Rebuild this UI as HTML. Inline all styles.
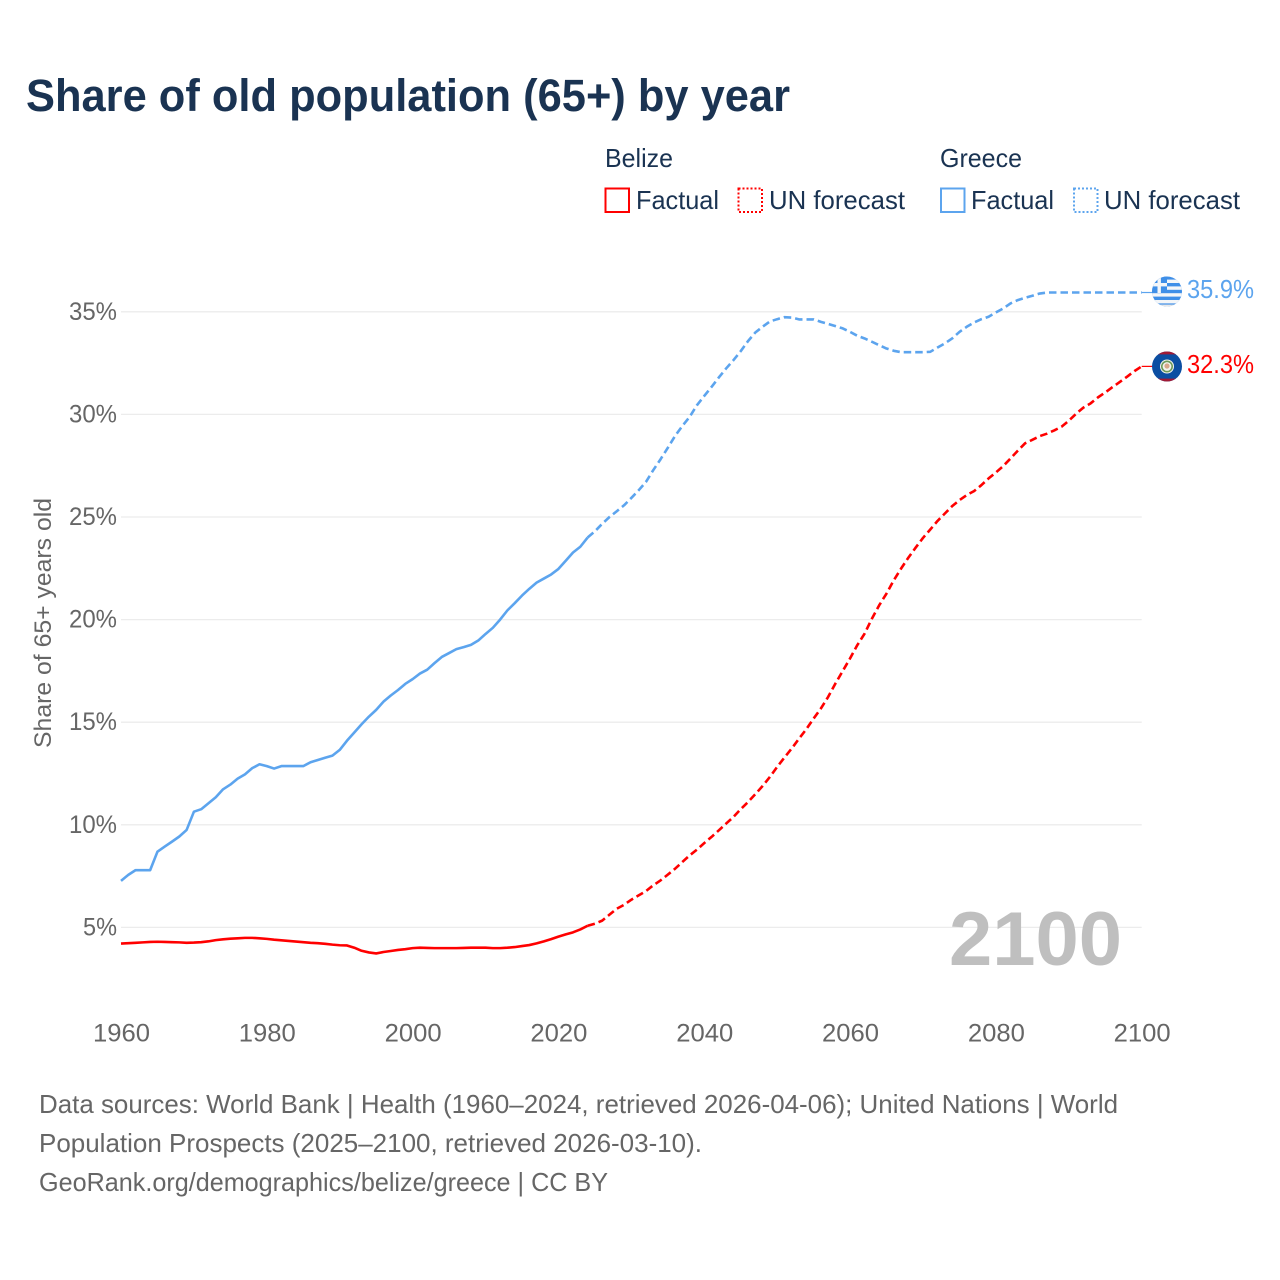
<!DOCTYPE html>
<html lang="en">
<head>
<meta charset="utf-8">
<title>Share of old population (65+) by year</title>
<style>
  html, body { margin: 0; padding: 0; background: #fff; }
  svg { display: block; font-family: "Liberation Sans", sans-serif; }
</style>
</head>
<body>
<svg id="chart" xmlns="http://www.w3.org/2000/svg" width="1280" height="1280" viewBox="0 0 1280 1280">
  <defs>
    <clipPath id="flag-gr-clip"><circle cx="1167" cy="291.5" r="15"/></clipPath>
    <clipPath id="flag-bz-clip"><circle cx="1167" cy="366.5" r="15"/></clipPath>
  </defs>
  <rect width="1280" height="1280" fill="#fff"/>

  <text x="26" y="111" font-size="45" font-weight="700" fill="#1a3352" textLength="764" lengthAdjust="spacingAndGlyphs">Share of old population (65+) by year</text>

  <g font-size="26" fill="#1a3352">
    <text x="605" y="167" textLength="68" lengthAdjust="spacingAndGlyphs">Belize</text>
    <text x="940" y="167" textLength="82" lengthAdjust="spacingAndGlyphs">Greece</text>
    <rect x="605.5" y="188.5" width="23.5" height="23.5" fill="none" stroke="#ff0000" stroke-width="2"/>
    <text x="636" y="209" textLength="83" lengthAdjust="spacingAndGlyphs">Factual</text>
    <rect x="738.5" y="188.5" width="23.5" height="23.5" fill="none" stroke="#ff0000" stroke-width="2" stroke-dasharray="2 2"/>
    <text x="769" y="209" textLength="136" lengthAdjust="spacingAndGlyphs">UN forecast</text>
    <rect x="941" y="188.5" width="23.5" height="23.5" fill="none" stroke="#5ca4ee" stroke-width="2"/>
    <text x="971" y="209" textLength="83" lengthAdjust="spacingAndGlyphs">Factual</text>
    <rect x="1074" y="188.5" width="23.5" height="23.5" fill="none" stroke="#5ca4ee" stroke-width="2" stroke-dasharray="2 2"/>
    <text x="1104" y="209" textLength="136" lengthAdjust="spacingAndGlyphs">UN forecast</text>
  </g>

  <g id="grid"></g>
  <g id="y-ticks"></g>
  <g id="x-ticks"></g>

  <text transform="translate(51 623) rotate(-90)" text-anchor="middle" font-size="24.5" fill="#666666" textLength="250" lengthAdjust="spacingAndGlyphs">Share of 65+ years old</text>

  <text x="949" y="965" font-size="76" font-weight="700" fill="#bfbfbf" textLength="173" lengthAdjust="spacingAndGlyphs">2100</text>

  <g id="series"></g>

  <g clip-path="url(#flag-gr-clip)">
    <rect x="1152" y="276" width="30" height="31" fill="#3f8fe8"/>
    <rect x="1152" y="286.4" width="30" height="3.4" fill="#f4f6f8"/>
    <rect x="1152" y="293.2" width="30" height="3.4" fill="#f4f6f8"/>
    <rect x="1152" y="300" width="30" height="3.4" fill="#f4f6f8"/>
    <rect x="1152" y="304.6" width="30" height="3" fill="#e8e8e8"/>
    <rect x="1167" y="279.6" width="15" height="3.4" fill="#f4f6f8"/>
    <rect x="1152" y="276" width="15" height="17" fill="#3f8fe8"/>
    <rect x="1157.5" y="276" width="3.4" height="17" fill="#f4f6f8"/>
    <rect x="1152" y="283" width="15" height="3.4" fill="#f4f6f8"/>
  </g>
  <g clip-path="url(#flag-bz-clip)">
    <rect x="1152" y="351" width="30" height="31" fill="#0b4ea2"/>
    <rect x="1152" y="351" width="30" height="3.4" fill="#a01a35"/>
    <rect x="1152" y="378.6" width="30" height="3.4" fill="#a01a35"/>
    <circle cx="1167" cy="366.5" r="7" fill="#f2f4ee"/>
    <circle cx="1167" cy="366.5" r="5.2" fill="none" stroke="#6d9a5a" stroke-width="1.6"/>
    <circle cx="1167" cy="366" r="2.6" fill="#d9a88c"/>
  </g>

  <text id="label-greece" x="1187" y="298" font-size="25.5" fill="#5ca4ee" textLength="67" lengthAdjust="spacingAndGlyphs">35.9%</text>
  <text id="label-belize" x="1187" y="373" font-size="25.5" fill="#ff0000" textLength="67" lengthAdjust="spacingAndGlyphs">32.3%</text>

  <g font-size="26" fill="#666666">
    <text x="39" y="1113" textLength="1079" lengthAdjust="spacingAndGlyphs">Data sources: World Bank | Health (1960–2024, retrieved 2026-04-06); United Nations | World</text>
    <text x="39" y="1152" textLength="663" lengthAdjust="spacingAndGlyphs">Population Prospects (2025–2100, retrieved 2026-03-10).</text>
    <text x="39" y="1191" textLength="569" lengthAdjust="spacingAndGlyphs">GeoRank.org/demographics/belize/greece | CC BY</text>
  </g>
</svg>
<script>
const factualStartYear = 1960;
const forecastStartYear = 2024;
const xTickYears = [1960, 1980, 2000, 2020, 2040, 2060, 2080, 2100];
const yTickValues = [5, 10, 15, 20, 25, 30, 35];
const belizeFactual = [
  4.21,4.23,4.25,4.27,4.29,4.30,4.29,4.28,4.27,4.25,
  4.26,4.28,4.32,4.38,4.42,4.45,4.47,4.49,4.49,4.47,
  4.44,4.40,4.37,4.34,4.31,4.28,4.25,4.23,4.20,4.16,
  4.13,4.12,4.01,3.86,3.78,3.73,3.80,3.85,3.90,3.94,
  3.99,4.01,4.00,3.99,3.99,3.99,3.99,4.00,4.01,4.01,
  4.01,3.99,3.99,4.01,4.04,4.09,4.14,4.22,4.32,4.43,
  4.55,4.66,4.76,4.90,5.08
];
const belizeForecast = [
  5.08,5.18,5.33,5.62,5.91,6.10,6.35,6.56,6.77,7.05,
  7.29,7.57,7.86,8.19,8.51,8.79,9.11,9.41,9.73,10.06,
  10.38,10.76,11.11,11.49,11.89,12.33,12.82,13.28,13.72,14.20,
  14.66,15.18,15.67,16.24,16.89,17.50,18.11,18.76,19.32,20.05,
  20.70,21.27,21.92,22.49,23.02,23.51,23.98,24.39,24.81,25.17,
  25.53,25.82,26.07,26.26,26.55,26.88,27.17,27.48,27.85,28.23,
  28.59,28.76,28.94,29.06,29.22,29.40,29.69,30.03,30.33,30.54,
  30.83,31.07,31.33,31.58,31.84,32.11,32.34
];
const greeceFactual = [
  7.27,7.56,7.79,7.79,7.79,8.69,8.94,9.18,9.43,9.75,
  10.64,10.76,11.05,11.34,11.73,11.96,12.25,12.46,12.76,12.95,
  12.86,12.74,12.86,12.86,12.86,12.86,13.05,13.16,13.27,13.37,
  13.65,14.10,14.50,14.90,15.27,15.60,16.00,16.30,16.57,16.87,
  17.10,17.37,17.56,17.88,18.18,18.37,18.56,18.66,18.77,18.98,
  19.30,19.60,20.00,20.45,20.80,21.17,21.50,21.80,22.00,22.20,
  22.47,22.87,23.27,23.55,24.00
];
const greeceForecast = [
  24.00,24.30,24.67,25.00,25.28,25.57,25.93,26.30,26.71,27.28,
  27.81,28.37,28.95,29.44,29.88,30.45,30.90,31.34,31.80,32.24,
  32.64,33.08,33.57,33.99,34.27,34.53,34.64,34.74,34.72,34.63,
  34.63,34.63,34.51,34.41,34.30,34.19,34.02,33.83,33.70,33.54,
  33.37,33.21,33.10,33.03,33.03,33.03,33.03,33.05,33.26,33.46,
  33.70,34.02,34.27,34.48,34.64,34.76,34.97,35.16,35.41,35.57,
  35.68,35.78,35.89,35.94,35.94,35.94,35.94,35.94,35.94,35.94,
  35.94,35.94,35.94,35.94,35.94,35.94,35.94
];

const SVGNS = 'http://www.w3.org/2000/svg';
function xScale(year) { return 121 + (year - 1960) * (1141.7 - 121) / 140; }
function yScale(value) { return 927.4 - (value - 5) * (927.4 - 311.8) / 30; }
function makeEl(tag, attrs) {
  const el = document.createElementNS(SVGNS, tag);
  for (const k in attrs) el.setAttribute(k, attrs[k]);
  return el;
}
function seriesPath(values, startYear) {
  return values.map(function (v, i) {
    return (i ? 'L' : 'M') + xScale(startYear + i).toFixed(2) + ' ' + yScale(v).toFixed(2);
  }).join(' ');
}

const grid = document.getElementById('grid');
const yTicks = document.getElementById('y-ticks');
const xTicks = document.getElementById('x-ticks');
const series = document.getElementById('series');

yTickValues.forEach(function (v) {
  const line = makeEl('line', { x1: xScale(1960), x2: xScale(2100), y1: yScale(v), y2: yScale(v), stroke: '#ececec', 'stroke-width': 1.3 });
  
  
  grid.appendChild(line);
  const label = makeEl('text', { x: 117, y: yScale(v) + 8, 'text-anchor': 'end', 'font-size': 25, fill: '#666666', textLength: v < 10 ? 34 : 48, lengthAdjust: 'spacingAndGlyphs' });
  
  
  label.textContent = v + '%';
  yTicks.appendChild(label);
});

xTickYears.forEach(function (yr) {
  const label = makeEl('text', { x: xScale(yr) + 0.5, y: 1041.5, 'text-anchor': 'middle', 'font-size': 25, fill: '#666666', textLength: 57, lengthAdjust: 'spacingAndGlyphs' });
  
  
  label.textContent = yr;
  xTicks.appendChild(label);
});

const solidBelize = makeEl('path', { d: seriesPath(belizeFactual, factualStartYear), fill: 'none', stroke: '#ff0000', 'stroke-width': 2.6, 'stroke-linejoin': 'round' });


series.appendChild(solidBelize);

const dashedBelize = makeEl('path', { d: seriesPath(belizeForecast, forecastStartYear), fill: 'none', stroke: '#ff0000', 'stroke-width': 2.6, 'stroke-dasharray': '7.5 4', 'stroke-linejoin': 'round' });


series.appendChild(dashedBelize);

const solidGreece = makeEl('path', { d: seriesPath(greeceFactual, factualStartYear), fill: 'none', stroke: '#5ca4ee', 'stroke-width': 2.6, 'stroke-linejoin': 'round' });


series.appendChild(solidGreece);

const dashedGreece = makeEl('path', { d: seriesPath(greeceForecast, forecastStartYear), fill: 'none', stroke: '#5ca4ee', 'stroke-width': 2.6, 'stroke-dasharray': '7.5 4', 'stroke-linejoin': 'round' });


series.appendChild(dashedGreece);

const belizeEnd = belizeForecast[belizeForecast.length - 1];
const greeceEnd = greeceForecast[greeceForecast.length - 1];

const connectorBelize = makeEl('line', { x1: xScale(2100), x2: 1153, y1: yScale(belizeEnd), y2: yScale(belizeEnd), stroke: '#ff0000', 'stroke-width': 1.2 });


series.appendChild(connectorBelize);

const connectorGreece = makeEl('line', { x1: xScale(2100), x2: 1153, y1: yScale(greeceEnd), y2: yScale(greeceEnd), stroke: '#5ca4ee', 'stroke-width': 1.2 });


series.appendChild(connectorGreece);
</script>
</body>
</html>
